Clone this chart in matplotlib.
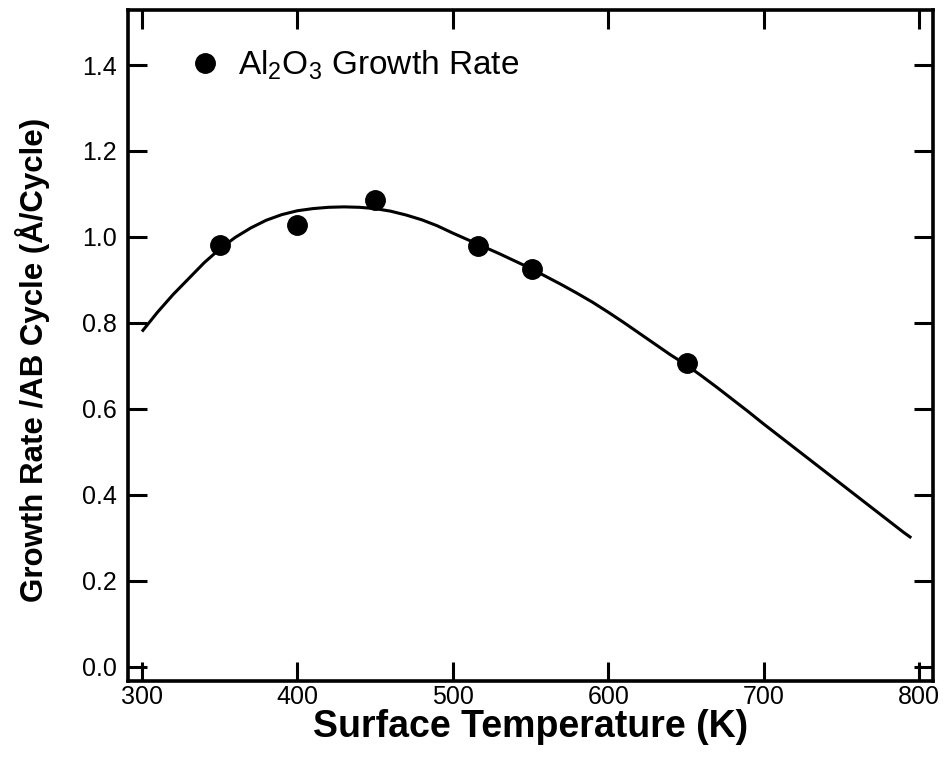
import matplotlib
matplotlib.use("Agg")
import matplotlib.pyplot as plt
from matplotlib.lines import Line2D

plt.rcParams["font.family"] = ["Liberation Sans", "DejaVu Sans"]
plt.rcParams["mathtext.fontset"] = "custom"
plt.rcParams["mathtext.rm"] = "Liberation Sans"
plt.rcParams["mathtext.it"] = "Liberation Sans:italic"
plt.rcParams["mathtext.bf"] = "Liberation Sans:bold"

# Measured Al2O3 growth rate per AB cycle
temp_k = [350, 400, 450, 516, 551, 651]
growth_rate = [0.982, 1.028, 1.086, 0.978, 0.925, 0.707]

# Fitted trend curve
fit_temp = [300, 310, 320, 330, 340, 350, 360, 370, 380, 390, 400, 410,
            420, 430, 440, 450, 460, 470, 480, 490, 500, 510, 520, 530,
            540, 550, 560, 570, 580, 590, 600, 610, 620, 630, 640, 650,
            660, 670, 680, 690, 700, 710, 720, 730, 740, 750, 760, 770,
            780, 790, 795]
fit_rate = [0.780, 0.825, 0.866, 0.903, 0.940, 0.972, 0.999, 1.021, 1.039,
            1.052, 1.061, 1.066, 1.069, 1.070, 1.069, 1.066, 1.060, 1.051,
            1.040, 1.026, 1.009, 0.993, 0.977, 0.961, 0.944, 0.927, 0.908,
            0.889, 0.869, 0.848, 0.825, 0.801, 0.776, 0.751, 0.726, 0.703,
            0.677, 0.650, 0.622, 0.594, 0.565, 0.537, 0.509, 0.481, 0.453,
            0.425, 0.397, 0.369, 0.341, 0.313, 0.300]

x_ticks = [300, 400, 500, 600, 700, 800]
y_ticks = [0.0, 0.2, 0.4, 0.6, 0.8, 1.0, 1.2, 1.4]

fig = plt.figure(figsize=(9.46, 7.69), dpi=100)
ax = fig.add_axes([0.1353, 0.1144, 0.8510, 0.8726])

ax.plot(fit_temp, fit_rate, color="black", lw=2.2, solid_capstyle="butt")
ax.plot(temp_k, growth_rate, "o", color="black", ms=14, zorder=3)

ax.set_xlim(291, 809)
ax.set_ylim(-0.033, 1.528)
ax.set_xticks(x_ticks)
ax.set_yticks(y_ticks)
ax.set_yticklabels([f"{v:.1f}" for v in y_ticks])

for s in ax.spines.values():
    s.set_linewidth(2.6)

ax.tick_params(axis="both", direction="in", length=14, width=2.2,
               top=True, right=True, labelsize=18)
ax.tick_params(axis="x", pad=3)
ax.tick_params(axis="y", pad=8)

ax.set_xlabel("Surface Temperature (K)", fontsize=27, fontweight="bold",
              labelpad=0)
ax.set_ylabel("Growth Rate /AB Cycle (\u00c5/Cycle)", fontsize=22.5,
              fontweight="bold")
ax.yaxis.set_label_coords(-0.097, 0.478)

handle = Line2D([], [], marker="o", color="black", ls="none", ms=14)
ax.legend([handle], ["Al$_2$O$_3$ Growth Rate"], loc="center left",
          bbox_to_anchor=(0.058, 0.917), frameon=False, fontsize=24,
          handletextpad=0.5, handlelength=1.0, borderaxespad=0)

fig.savefig("out.png", dpi=100)
